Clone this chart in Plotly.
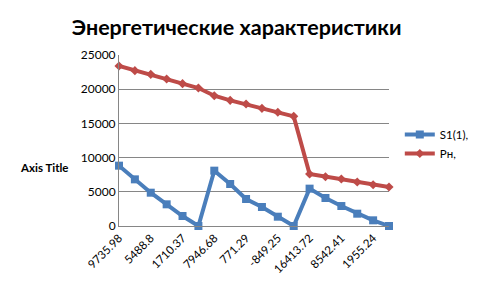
import plotly.graph_objects as go

categories = ["9735.98", "7612.4", "5488.8", "3599.6", "1710.37", "4828.5",
              "7946.68", "4359.0", "771.29", "-38.98", "-849.25", "7782.2",
              "16413.72", "12478.1", "8542.41", "5248.8", "1955.24", "977.6"]
tick_labels = ["9735.98", "5488.8", "1710.37", "7946.68", "771.29",
               "-849.25", "16413.72", "8542.41", "1955.24"]
s1 = [8820, 6820, 4870, 3170, 1460, 0, 8090, 6140, 3950, 2780, 1360, 0,
      5460, 4090, 2920, 1800, 830, 0]
pn = [23390, 22710, 22170, 21490, 20810, 20170, 19050, 18370, 17840, 17200,
      16620, 16030, 7600, 7210, 6870, 6430, 6040, 5700]
y_ticks = [0, 5000, 10000, 15000, 20000, 25000]

xs = list(range(len(categories)))
tickvals = [i for i, c in enumerate(categories) if c in tick_labels]

fig = go.Figure()
fig.add_trace(go.Scatter(x=xs, y=s1, name="S1(1),", mode="lines+markers",
                         line=dict(color="#4A7EBB", width=4),
                         marker=dict(symbol="square", size=8, color="#4A7EBB"),
                         cliponaxis=False))
fig.add_trace(go.Scatter(x=xs, y=pn, name="Pн,", mode="lines+markers",
                         line=dict(color="#BE4B48", width=4),
                         marker=dict(symbol="diamond", size=7, color="#BE4B48"),
                         cliponaxis=False))

fig.update_layout(
    width=480, height=288,
    margin=dict(l=119, r=91, t=55, b=62, autoexpand=False),
    paper_bgcolor="white", plot_bgcolor="white",
    font=dict(family="Lato, Carlito, sans-serif", size=11, color="#000"),
    title=dict(text="<b>Энергетические характеристики</b>", x=0.493, xanchor="center",
               y=0.905, yanchor="middle",
               font=dict(family="Lato, sans-serif", size=21.5, color="#000")),
    showlegend=True,
    legend=dict(x=1.04, xanchor="left", y=0.62, yanchor="top",
                font=dict(size=11.5), itemwidth=30, tracegroupgap=0,
                bgcolor="rgba(0,0,0,0)"),
    xaxis=dict(range=[0, 17], tickmode="array", tickvals=tickvals,
               ticktext=[categories[i] for i in tickvals], tickangle=-45,
               showgrid=False, zeroline=False, showline=True,
               linecolor="#868686", linewidth=1, ticks="",
               tickfont=dict(size=11.5)),
    yaxis=dict(range=[0, 25000], tickmode="array", tickvals=y_ticks,
               ticktext=[str(v) for v in y_ticks], showgrid=True,
               gridcolor="#868686", gridwidth=1, zeroline=False,
               showline=True, linecolor="#868686", linewidth=1,
               ticks="", tickfont=dict(size=12)),
    annotations=[dict(text="<b>Axis Title</b>", xref="paper", yref="paper",
                      x=-0.278, y=0.345, xanchor="center", yanchor="middle",
                      showarrow=False, font=dict(size=11.5))],
)

fig.write_html("out.html")
